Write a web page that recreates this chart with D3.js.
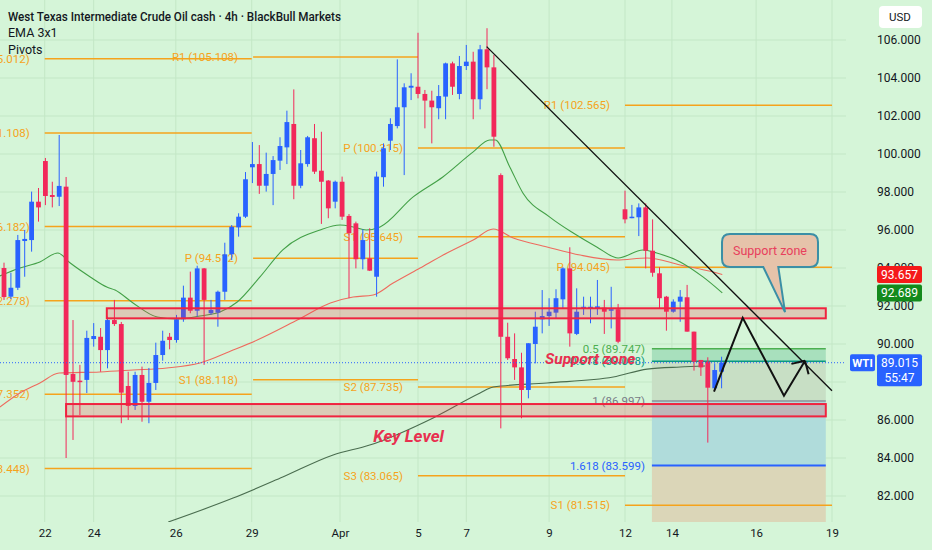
<!DOCTYPE html>
<html>
<head>
<meta charset="utf-8">
<script src="https://cdn.jsdelivr.net/npm/d3@7"></script>
<style>
  html, body { margin: 0; padding: 0; background: #d5f5d8; }
  svg { display: block; }
  text { font-family: Roboto, "Noto Sans", sans-serif; }
</style>
</head>
<body>
<div id="chart"></div>
<script>
// candles, 4h bars: [open, high, low, close]
const candles = [
  [94.00, 94.28, 92.32, 92.47], [92.49, 93.75, 92.37, 92.96], [92.96, 95.74, 92.84, 95.47],
  [95.42, 96.00, 93.54, 95.53], [95.47, 98.02, 94.86, 97.49], [97.49, 98.21, 96.44, 97.19],
  [99.63, 99.79, 97.31, 97.79], [97.84, 98.54, 97.19, 97.74], [97.75, 101.00, 97.26, 98.32],
  [98.28, 98.79, 84.00, 88.37], [88.42, 91.26, 84.95, 88.01], [88.07, 88.90, 86.26, 88.00],
  [88.11, 90.70, 87.42, 90.32], [90.26, 91.10, 89.86, 90.42], [90.38, 90.84, 88.54, 89.68],
  [89.68, 91.44, 88.72, 91.26], [91.26, 92.32, 90.95, 91.05], [91.05, 91.16, 85.83, 87.44],
  [87.79, 88.54, 86.00, 86.74], [86.74, 88.54, 86.53, 88.37], [88.37, 88.81, 85.91, 86.96],
  [86.96, 88.74, 85.83, 87.95], [87.95, 90.07, 87.58, 89.42], [89.42, 90.70, 89.12, 90.17],
  [90.38, 90.58, 89.72, 90.21], [90.21, 91.53, 90.07, 91.30], [91.30, 93.07, 91.17, 92.44],
  [92.44, 93.81, 91.62, 91.75], [91.75, 94.12, 91.44, 93.98], [93.98, 94.00, 88.90, 92.32],
  [91.62, 92.32, 91.53, 91.79], [91.65, 92.81, 90.91, 92.75], [92.75, 95.33, 92.32, 94.72],
  [94.72, 96.26, 94.42, 96.17], [96.14, 96.88, 95.65, 96.70], [96.70, 99.05, 96.63, 98.67],
  [99.30, 100.63, 98.47, 99.47], [99.47, 100.47, 97.90, 98.33], [98.33, 100.07, 98.02, 98.95],
  [98.95, 99.89, 97.31, 99.68], [99.65, 100.88, 99.16, 100.42], [100.35, 102.28, 99.47, 101.68],
  [101.58, 103.40, 97.62, 98.33], [98.33, 100.21, 98.20, 99.51], [99.47, 100.95, 99.33, 100.88],
  [100.83, 101.58, 98.95, 99.07], [99.12, 101.17, 96.32, 98.54], [98.60, 98.63, 96.62, 97.14],
  [97.49, 98.60, 97.14, 98.54], [98.54, 98.81, 96.53, 96.70], [96.74, 96.84, 92.41, 95.83],
  [96.35, 96.44, 93.98, 94.46], [94.46, 96.04, 93.93, 95.47], [94.51, 96.09, 93.84, 93.86],
  [93.54, 99.07, 92.49, 98.81], [98.78, 100.56, 98.28, 100.30], [100.70, 101.88, 100.21, 101.58],
  [101.47, 104.98, 101.35, 102.46], [102.46, 103.72, 98.89, 103.51], [103.49, 104.25, 102.84, 103.59],
  [103.54, 106.38, 102.93, 103.16], [103.16, 103.37, 101.35, 102.81], [102.81, 103.33, 100.56, 102.46],
  [102.41, 103.63, 101.83, 103.05], [103.02, 104.81, 101.83, 104.77], [104.77, 104.86, 103.11, 103.54],
  [103.16, 105.16, 102.88, 104.63], [104.63, 105.74, 104.42, 104.86], [104.86, 105.38, 101.83, 102.88],
  [102.88, 105.74, 102.35, 105.51], [105.51, 106.62, 103.41, 104.56], [104.56, 105.21, 100.38, 100.91],
  [98.89, 98.98, 85.56, 90.38], [90.38, 91.12, 89.16, 89.25], [89.21, 90.56, 88.11, 88.77],
  [88.77, 89.54, 86.09, 87.58], [87.58, 90.04, 87.14, 90.04], [90.00, 91.70, 88.98, 90.91],
  [91.30, 92.84, 90.56, 91.47], [91.47, 92.41, 90.95, 91.70], [91.65, 92.88, 91.35, 92.41],
  [92.35, 94.04, 91.88, 93.98], [93.98, 95.09, 89.86, 90.56], [90.53, 92.93, 90.47, 91.70],
  [91.88, 92.49, 91.53, 91.96], [91.88, 92.49, 91.09, 91.96], [91.88, 93.37, 91.53, 91.98],
  [91.91, 92.32, 90.53, 91.70], [91.75, 93.01, 90.82, 91.83], [91.83, 92.11, 90.04, 90.12],
  [97.09, 98.07, 96.35, 96.56], [96.63, 97.32, 96.62, 96.70], [96.67, 97.40, 95.68, 97.19],
  [97.19, 97.40, 93.98, 94.91], [94.91, 96.56, 93.54, 93.75], [93.72, 94.04, 91.88, 92.41],
  [92.49, 92.53, 90.70, 91.70], [91.70, 92.35, 91.65, 92.23], [92.23, 92.84, 91.17, 92.49],
  [92.46, 93.11, 90.65, 90.65], [90.65, 90.65, 88.60, 89.07], [89.16, 89.16, 88.32, 88.77],
  [89.07, 89.30, 84.81, 87.70], [87.67, 88.98, 87.58, 88.63], [88.54, 89.33, 87.67, 89.015]
];

// moving averages as [bar, price] points
const emaFast = [[-0.6, 93.58], [2.3, 94.0], [5.2, 94.32], [7.8, 94.79], [9.6, 94.26], [12.5, 93.53],
  [14.9, 93.0], [16.1, 92.84], [18.7, 92.16], [22.2, 91.42], [25.1, 91.32], [28.4, 91.47],
  [31.3, 91.68], [33.8, 92.21], [37.1, 93.53], [40.4, 94.95], [45.8, 96.0], [48.7, 96.26],
  [50.6, 96.16], [52.5, 96.0], [54.5, 96.16], [59.3, 97.74], [63.6, 98.79], [68.0, 100.11],
  [70.4, 100.74], [71.2, 100.74], [73.3, 99.32], [75.2, 97.95], [79.1, 96.68], [82.5, 95.84],
  [85.9, 95.11], [89.0, 94.53], [92.6, 94.95], [94.6, 94.79], [98.0, 94.32], [101.3, 93.53], [104.1, 92.689]];
const emaMid = [[-0.6, 86.68], [2.3, 87.42], [5.2, 87.95], [8.0, 88.47], [13.9, 88.53], [18.7, 88.63],
  [23.6, 88.74], [28.4, 89.0], [33.2, 89.68], [36.7, 90.21], [42.5, 91.26], [47.3, 92.16],
  [50.6, 92.47], [53.5, 92.58], [56.4, 93.21], [60.3, 94.0], [64.2, 94.79], [68.0, 95.47],
  [70.9, 96.05], [73.8, 95.58], [78.7, 95.11], [83.5, 94.68], [88.8, 94.42], [93.2, 94.53],
  [98.0, 94.16], [102.8, 93.79], [104.1, 93.657]];
const emaSlow = [[23.8, 80.63], [33.2, 81.89], [40.4, 83.0], [47.7, 84.16], [53.0, 84.68],
  [62.2, 86.11], [69.0, 87.42], [70.9, 87.74], [78.7, 87.95], [88.3, 88.26], [93.2, 88.68],
  [98.0, 88.79], [101.6, 88.84]];

// weekly pivots: [start bar, end bar] and [week, name, level]
const pivotWeeks = [[5.9, 35.9], [36.1, 60], [60, 90], [90, 120]];
const pivotLevels = [
  [0, "R2", 105.012], [0, "R1", 101.108], [0, "P", 96.182], [0, "S1", 92.278], [0, "S2", 87.352], [0, "S3", 83.448],
  [1, "R1", 105.108], [1, "P", 94.512], [1, "S1", 88.118],
  [2, "P", 100.315], [2, "S1", 95.645], [2, "S2", 87.735], [2, "S3", 83.065],
  [3, "R1", 102.565], [3, "P", 94.045], [3, "S1", 81.515]
];

// drawings
const trendLine = [[69.95, 105.65], [120, 87.54]];
const pathArrow = [[102.9, 87.49], [107.06, 91.38], [113.04, 87.28], [116.09, 89.12]];
const zones = [[14.9, 119.1, 91.88, 91.35], [9.0, 119.1, 86.84, 86.19]];
const fibSpan = [93.9, 119.1];
const fibLevels = [[0.5, 89.747], [0.618, 89.098], [1, 86.997], [1.618, 83.599], [2.618, 78.098]];
const calloutBox = [104.06, 117.97, 95.79, 94.05];
const calloutTail = [[110.04, 112.22], [113.19, 91.68]];

// axes
const dayTickBars = [5.9, 13, 24.9, 35.9, 48.7, 60, 67, 79, 90, 96.8, 109, 120];
const dayLabels = ["22", "24", "26", "29", "Apr", "5", "7", "9", "12", "14", "16", "19"];
const priceTicks = [82, 84, 86, 88, 90, 92, 94, 96, 98, 100, 102, 104, 106];
const lastPrice = 89.015;

const W = 932, H = 550;
const plotRight = 846, plotBottom = 522;
const red = "#f2285a", blue = "#2962ff", orange = "#f5a31c";

const x = d3.scaleLinear().domain([0, 120]).range([4, 832]);
const y = d3.scaleLinear().domain([82, 106]).range([496, 40]);

const svg = d3.select("#chart").append("svg").attr("width", W).attr("height", H);
svg.append("rect").attr("width", W).attr("height", H).attr("fill", "#d5f5d8");

svg.append("defs").append("clipPath").attr("id", "plot")
  .append("rect").attr("width", plotRight).attr("height", plotBottom);

const plot = svg.append("g").attr("clip-path", "url(#plot)");

// grid
plot.selectAll(".vgrid").data(dayTickBars).enter().append("line")
  .attr("x1", d => x(d)).attr("x2", d => x(d)).attr("y1", 0).attr("y2", plotBottom)
  .attr("stroke", "#c3e7c6").attr("stroke-width", 1);
plot.selectAll(".hgrid").data(priceTicks).enter().append("line")
  .attr("x1", 0).attr("x2", plotRight).attr("y1", d => y(d)).attr("y2", d => y(d))
  .attr("stroke", "#c3e7c6").attr("stroke-width", 1);

// fib extension box
const fibColors = ["#a8e0bd", "#c8dfc5", "#b0dcdb", "#dbd6b8"];
const fibLineColors = ["#4caf50", "#089981", "#8c8f98", "#2962ff"];
const fibTextColors = ["#4caf50", "#089981", "#787b86", "#2962ff"];
plot.selectAll(".fibband").data(fibLevels.slice(0, -1)).enter().append("rect")
  .attr("x", x(fibSpan[0])).attr("width", x(fibSpan[1]) - x(fibSpan[0]))
  .attr("y", d => y(d[1]))
  .attr("height", (d, i) => y(fibLevels[i + 1][1]) - y(d[1]))
  .attr("fill", (d, i) => fibColors[i]);
plot.selectAll(".fibline").data(fibLevels.slice(0, -1)).enter().append("line")
  .attr("x1", x(fibSpan[0])).attr("x2", x(fibSpan[1]))
  .attr("y1", d => y(d[1])).attr("y2", d => y(d[1]))
  .attr("stroke", (d, i) => fibLineColors[i]).attr("stroke-width", (d, i) => i === 3 ? 2 : 1.5);
plot.selectAll(".fiblabel").data(fibLevels.slice(0, -1)).enter().append("text")
  .attr("x", x(fibSpan[0]) - 7).attr("y", d => y(d[1]))
  .attr("dy", "0.35em").attr("text-anchor", "end")
  .attr("font-size", 11.5).attr("fill", (d, i) => fibTextColors[i])
  .text(d => `${d[0]} (${d[1].toFixed(3)})`);

// pivots
plot.selectAll(".pivot").data(pivotLevels).enter().append("line")
  .attr("x1", d => x(pivotWeeks[d[0]][0])).attr("x2", d => x(pivotWeeks[d[0]][1]))
  .attr("y1", d => y(d[2])).attr("y2", d => y(d[2]))
  .attr("stroke", orange).attr("stroke-width", 1.5);
plot.selectAll(".pivotlabel").data(pivotLevels).enter().append("text")
  .attr("x", d => x(pivotWeeks[d[0]][0]) - 15).attr("y", d => y(d[2]))
  .attr("dy", "0.35em").attr("text-anchor", "end")
  .attr("font-size", 11.5).attr("fill", orange)
  .text(d => `${d[1]} (${d[2].toFixed(3)})`);

// moving averages
const line = d3.line().x(d => x(d[0])).y(d => y(d[1])).curve(d3.curveMonotoneX);
plot.append("path").attr("d", line(emaSlow)).attr("fill", "none").attr("stroke", "#4a6d4f").attr("stroke-width", 1.1);
plot.append("path").attr("d", line(emaMid)).attr("fill", "none").attr("stroke", "#ee6b5e").attr("stroke-width", 1.1);
plot.append("path").attr("d", line(emaFast)).attr("fill", "none").attr("stroke", "#43a047").attr("stroke-width", 1.1);

// candles
const bars = plot.selectAll(".candle").data(candles).enter().append("g");
bars.append("line")
  .attr("x1", (d, i) => x(i)).attr("x2", (d, i) => x(i))
  .attr("y1", d => y(d[1])).attr("y2", d => y(d[2]))
  .attr("stroke", d => d[3] >= d[0] ? blue : red).attr("stroke-width", 1);
bars.append("rect")
  .attr("x", (d, i) => x(i) - 2.4).attr("width", 4.8)
  .attr("y", d => y(Math.max(d[0], d[3])))
  .attr("height", d => Math.max(1.5, Math.abs(y(d[0]) - y(d[3]))))
  .attr("fill", d => d[3] >= d[0] ? blue : red);

// zones
plot.selectAll(".zone").data(zones).enter().append("rect")
  .attr("x", d => x(d[0])).attr("width", d => x(d[1]) - x(d[0]))
  .attr("y", d => y(d[2])).attr("height", d => y(d[3]) - y(d[2]))
  .attr("fill", "#f23645").attr("fill-opacity", 0.22)
  .attr("stroke", "#f0233f").attr("stroke-width", 2);

// last price line
plot.append("line").attr("x1", 0).attr("x2", plotRight).attr("y1", y(lastPrice)).attr("y2", y(lastPrice))
  .attr("stroke", blue).attr("stroke-width", 1).attr("stroke-dasharray", "1,2");

// trend line and projected path
plot.append("line")
  .attr("x1", x(trendLine[0][0])).attr("y1", y(trendLine[0][1]))
  .attr("x2", x(trendLine[1][0])).attr("y2", y(trendLine[1][1]))
  .attr("stroke", "#111").attr("stroke-width", 1.3);
plot.append("path").attr("d", d3.line().x(d => x(d[0])).y(d => y(d[1]))(pathArrow))
  .attr("fill", "none").attr("stroke", "#111").attr("stroke-width", 2);
{
  const a = pathArrow[pathArrow.length - 2], b = pathArrow[pathArrow.length - 1];
  const tx = x(b[0]), ty = y(b[1]);
  const ang = Math.atan2(ty - y(a[1]), tx - x(a[0]));
  [-0.8, 0.8].forEach(off => {
    plot.append("line").attr("x1", tx).attr("y1", ty)
      .attr("x2", tx - 14 * Math.cos(ang + off)).attr("y2", ty - 14 * Math.sin(ang + off))
      .attr("stroke", "#111").attr("stroke-width", 2);
  });
}

// text notes
plot.append("text").attr("x", x(78.4)).attr("y", y(88.95))
  .attr("font-size", 15.5).attr("font-style", "italic").attr("font-weight", "bold")
  .attr("fill", "#e8304f").text("Support zone");
plot.append("text").attr("x", x(53.5)).attr("y", y(84.84))
  .attr("font-size", 17).attr("font-style", "italic").attr("font-weight", "bold")
  .attr("fill", "#e8304f").text("Key Level");

// callout
{
  const x1 = x(calloutBox[0]), x2 = x(calloutBox[1]), y1 = y(calloutBox[2]), y2 = y(calloutBox[3]);
  const r = 8, t1 = x(calloutTail[0][0]), t2 = x(calloutTail[0][1]);
  const tipX = x(calloutTail[1][0]), tipY = y(calloutTail[1][1]);
  const p = d3.path();
  p.moveTo(x1 + r, y1);
  p.lineTo(x2 - r, y1); p.quadraticCurveTo(x2, y1, x2, y1 + r);
  p.lineTo(x2, y2 - r); p.quadraticCurveTo(x2, y2, x2 - r, y2);
  p.lineTo(t2, y2); p.lineTo(tipX, tipY); p.lineTo(t1, y2);
  p.lineTo(x1 + r, y2); p.quadraticCurveTo(x1, y2, x1, y2 - r);
  p.lineTo(x1, y1 + r); p.quadraticCurveTo(x1, y1, x1 + r, y1);
  p.closePath();
  plot.append("path").attr("d", p.toString())
    .attr("fill", "#e6c3aa").attr("stroke", "#3b8fa6").attr("stroke-width", 2);
  plot.append("text").attr("x", (x1 + x2) / 2).attr("y", (y1 + y2) / 2).attr("dy", "0.35em")
    .attr("text-anchor", "middle").attr("font-size", 12.5).attr("fill", "#e8405c").text("Support zone");
}

// axes
const yAxis = svg.append("g").attr("transform", "translate(877,0)")
  .call(d3.axisRight(y).tickValues(priceTicks).tickFormat(d3.format(".3f")).tickSize(0).tickPadding(0));
yAxis.select(".domain").remove();
yAxis.selectAll("text").attr("font-size", 12).attr("fill", "#131722")
  .style("font-family", "Roboto, sans-serif");

const xAxis = svg.append("g").attr("transform", `translate(0,${plotBottom})`)
  .call(d3.axisBottom(x).tickValues(dayTickBars).tickFormat((d, i) => dayLabels[i]).tickSize(0).tickPadding(7));
xAxis.select(".domain").remove();
xAxis.selectAll("text").attr("font-size", 11.5).attr("fill", "#131722")
  .style("font-family", "Roboto, sans-serif");

// price badges
function badge(val, color) {
  const cy = y(val);
  svg.append("rect").attr("x", 877).attr("y", cy - 8.5).attr("width", 45).attr("height", 17)
    .attr("rx", 2).attr("fill", color);
  svg.append("text").attr("x", 899.5).attr("y", cy).attr("dy", "0.35em").attr("text-anchor", "middle")
    .attr("font-size", 12).attr("fill", "#fff").text(val.toFixed(3));
}
badge(emaMid[emaMid.length - 1][1], "#f51a1a");
badge(emaFast[emaFast.length - 1][1], "#138a1c");
{
  const cy = y(lastPrice);
  svg.append("rect").attr("x", 877).attr("y", cy - 8.5).attr("width", 45).attr("height", 32)
    .attr("rx", 2).attr("fill", blue);
  svg.append("text").attr("x", 899.5).attr("y", cy).attr("dy", "0.35em").attr("text-anchor", "middle")
    .attr("font-size", 12).attr("fill", "#fff").text(lastPrice.toFixed(3));
  svg.append("text").attr("x", 899.5).attr("y", cy + 15).attr("dy", "0.35em").attr("text-anchor", "middle")
    .attr("font-size", 12).attr("fill", "#fff").text("55:47");
  svg.append("rect").attr("x", 850).attr("y", cy - 8.5).attr("width", 25).attr("height", 17)
    .attr("rx", 2).attr("fill", blue);
  svg.append("text").attr("x", 862.5).attr("y", cy).attr("dy", "0.35em").attr("text-anchor", "middle")
    .attr("font-size", 11.5).attr("font-weight", "bold").attr("fill", "#fff").text("WTI");
}

// currency button
svg.append("rect").attr("x", 879).attr("y", 6).attr("width", 43).attr("height", 22)
  .attr("rx", 4).attr("fill", "#fff");
svg.append("text").attr("x", 900).attr("y", 17).attr("dy", "0.35em").attr("text-anchor", "middle")
  .attr("font-size", 11.5).attr("fill", "#131722").text("USD");

// legend
const legend = ["West Texas Intermediate Crude Oil cash · 4h · BlackBull Markets", "EMA 3x1", "Pivots"];
svg.selectAll(".legend").data(legend).enter().append("text")
  .attr("x", 8).attr("y", (d, i) => 20.5 + i * 16.5)
  .attr("font-size", 12.5).attr("font-weight", (d, i) => i === 0 ? 500 : 400)
  .attr("fill", "#131722")
  .attr("textLength", (d, i) => i === 0 ? 333 : null)
  .attr("lengthAdjust", "spacingAndGlyphs")
  .text(d => d);
</script>
</body>
</html>
